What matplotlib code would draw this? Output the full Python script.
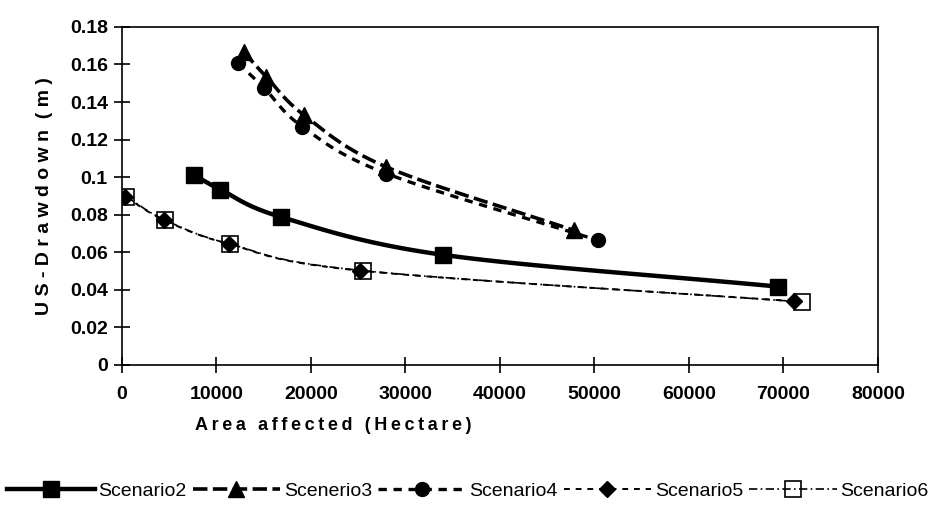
import numpy as np
import matplotlib
matplotlib.use("Agg")
import matplotlib.pyplot as plt
from matplotlib.lines import Line2D

plt.rcParams['font.family'] = ['Liberation Sans', 'DejaVu Sans']

# valores
s2_x = [7700, 10450, 16900, 34000, 69400]
s2_y = [0.101, 0.0934, 0.0787, 0.0586, 0.0417]

s3_x = [12900, 15300, 19300, 28000, 47800]
s3_y = [0.1667, 0.1534, 0.133, 0.1054, 0.0717]

s4_x = [12300, 15100, 19100, 28000, 50400]
s4_y = [0.1608, 0.1473, 0.1269, 0.1019, 0.0663]

s5_x = [400, 4500, 11400, 25200, 71100]
s5_y = [0.0894, 0.0771, 0.0643, 0.0502, 0.0339]

s6_x = [500, 4600, 11500, 25500, 72000]
s6_y = [0.0894, 0.0771, 0.0643, 0.0502, 0.0335]

x_ticks = [0, 10000, 20000, 30000, 40000, 50000, 60000, 70000, 80000]
y_ticks = [0, 0.02, 0.04, 0.06, 0.08, 0.1, 0.12, 0.14, 0.16, 0.18]
y_labels = ["0", "0.02", "0.04", "0.06", "0.08", "0.1", "0.12", "0.14", "0.16", "0.18"]


def suavizar(x, y, n=25):
    # curva tipo Catmull-Rom, como las lineas suavizadas de Excel
    x = np.asarray(x, float)
    y = np.asarray(y, float)
    px = np.concatenate([[2 * x[0] - x[1]], x, [2 * x[-1] - x[-2]]])
    py = np.concatenate([[2 * y[0] - y[1]], y, [2 * y[-1] - y[-2]]])
    t = np.linspace(0, 1, n)
    ox, oy = [], []
    for i in range(1, len(px) - 2):
        for p, out in ((px, ox), (py, oy)):
            p0, p1, p2, p3 = p[i - 1], p[i], p[i + 1], p[i + 2]
            c = 0.5 * ((2 * p1) + (-p0 + p2) * t
                       + (2 * p0 - 5 * p1 + 4 * p2 - p3) * t ** 2
                       + (-p0 + 3 * p1 - 3 * p2 + p3) * t ** 3)
            out.extend(c)
    return ox, oy


def espaciar(texto):
    return '\u2009'.join(texto)


fig = plt.figure(figsize=(9.36, 5.28), dpi=100)
ax = fig.add_axes([0.130, 0.309, 0.808, 0.640])

series = [
    (s2_x, s2_y, dict(ls='-', lw=3.2), dict(marker='s', ms=12, mfc='black', mec='black'), 'Scenario2'),
    (s3_x, s3_y, dict(ls=(0, (4, 1.5)), lw=2.6), dict(marker='^', ms=11, mfc='black', mec='black'), 'Scenerio3'),
    (s4_x, s4_y, dict(ls=(0, (2.5, 2)), lw=2.4), dict(marker='o', ms=10, mfc='black', mec='black'), 'Scenario4'),
    (s5_x, s5_y, dict(ls=(0, (3, 3)), lw=1.4), dict(marker='D', ms=8, mfc='black', mec='black'), 'Scenario5'),
    (s6_x, s6_y, dict(ls=(0, (5, 2, 1, 2)), lw=1.2), dict(marker='s', ms=11, mfc='none', mec='black', mew=1.2), 'Scenario6'),
]

handles = []
for x, y, lstyle, mstyle, nombre in series:
    sx, sy = suavizar(x, y)
    ax.plot(sx, sy, color='black', **lstyle)
    ax.plot(x, y, ls='none', **mstyle)
    handles.append(Line2D([], [], color='black', **lstyle, **mstyle, label=nombre))

ax.set_xlim(0, 80000)
ax.set_ylim(0, 0.18)
ax.set_xticks(x_ticks)
ax.set_xticklabels([str(v) for v in x_ticks])
ax.set_yticks(y_ticks)
ax.set_yticklabels(y_labels)
ax.tick_params(direction='inout', length=12, width=1.2, labelsize=14, pad=4)
ax.tick_params(axis='x', pad=9)
for lab in ax.get_xticklabels() + ax.get_yticklabels():
    lab.set_fontweight('bold')
for sp in ax.spines.values():
    sp.set_linewidth(1.2)

ax.set_xlabel(espaciar('Area affected (Hectare)'), fontsize=13, fontweight='bold')
ax.xaxis.set_label_coords(0.28, -0.155)
ax.set_ylabel('U S - D r a w d o w n  ( m )', fontsize=14, fontweight='bold', labelpad=12)

fig.legend(handles=handles, loc='lower center', bbox_to_anchor=(0.5, 0.02), ncol=5,
           frameon=False, fontsize=14, handlelength=4.5, handletextpad=0.2, columnspacing=0.3)

fig.savefig('out.png', dpi=100)
